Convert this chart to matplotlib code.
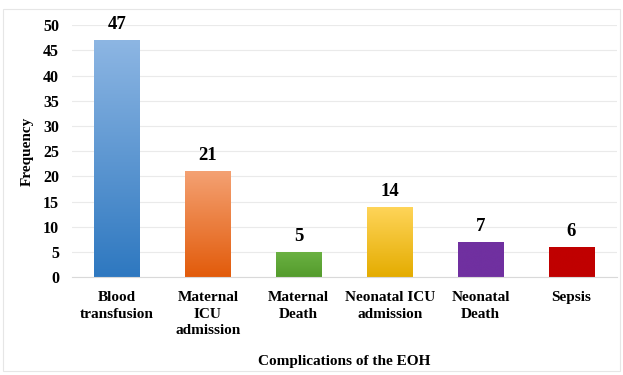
import numpy as np
import matplotlib.pyplot as plt
from matplotlib.colors import LinearSegmentedColormap
from matplotlib.patches import Rectangle

categories = ['Blood\ntransfusion', 'Maternal\nICU\nadmission', 'Maternal\nDeath',
              'Neonatal ICU\nadmission', 'Neonatal\nDeath', 'Sepsis']
values = [47, 21, 5, 14, 7, 6]
# top colour, bottom colour of each bar gradient
top_colors = ['#8DB6E3', '#F4A173', '#6CB243', '#FFD55A', '#7030A0', '#C00000']
bottom_colors = ['#2E78C0', '#E25B0A', '#539B2C', '#E4AC00', '#7030A0', '#C00000']

plt.rcParams['font.family'] = ['Liberation Serif', 'DejaVu Serif']
plt.rcParams['font.weight'] = 'bold'

fig = plt.figure(figsize=(6.23, 3.75), dpi=100)
ax = fig.add_axes([0.115, 0.261, 0.875, 0.672])

x = np.arange(len(values))
bars = ax.bar(x, values, width=0.5, color='none', zorder=2)

grad = np.linspace(0, 1, 256).reshape(-1, 1)
for b, c1, c2, v in zip(bars, top_colors, bottom_colors, values):
    cmap = LinearSegmentedColormap.from_list('g', [c2, c1])
    x0, w, h = b.get_x(), b.get_width(), b.get_height()
    im = ax.imshow(grad, cmap=cmap, aspect='auto', origin='lower',
                   extent=[x0, x0 + w, 0, h], zorder=2)
    im.set_clip_path(b)
    ax.annotate(str(v), (x0 + w / 2, h), xytext=(0, 5), textcoords='offset points',
                ha='center', va='bottom', fontsize=13.5, fontweight='bold')

ax.set_xlim(-0.5, len(values) - 0.5)
ax.set_ylim(0, 50)
ax.set_yticks(range(0, 51, 5))
ax.set_xticks(x)
ax.set_xticklabels(categories, fontsize=11, fontweight='bold', linespacing=1.35)
ax.tick_params(axis='y', labelsize=11.5, length=0, pad=9)
ax.tick_params(axis='x', length=0, pad=10)
ax.yaxis.grid(True, color='#EAEAEA', linewidth=0.8, zorder=0)
ax.set_axisbelow(True)
for s in ['top', 'right', 'left']:
    ax.spines[s].set_visible(False)
ax.spines['bottom'].set_color('#D9D9D9')

ax.set_ylabel('Frequency', fontsize=11, fontweight='bold', labelpad=7)
ax.set_xlabel('Complications of the EOH', fontsize=11, fontweight='bold', labelpad=13)

fig.patches.append(Rectangle((0.005, 0.01), 0.99, 0.965, transform=fig.transFigure,
                             fill=False, edgecolor='#E6E6E6', linewidth=0.8))

fig.savefig('out.png', dpi=100)
